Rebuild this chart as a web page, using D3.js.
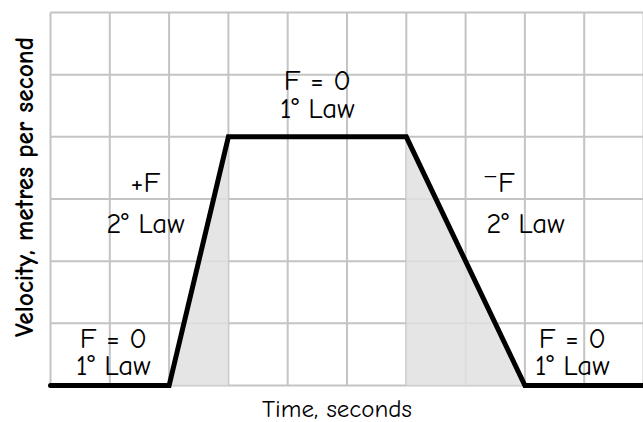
<!DOCTYPE html>
<html><head><meta charset="utf-8">
<script src="https://cdn.jsdelivr.net/npm/d3@7"></script>
<style>body{margin:0;background:#fff}svg{display:block}text{font-family:"Comic Sans MS","Comic Neue","DejaVu Sans",sans-serif;fill:#000}</style>
</head><body><svg id="c" width="643" height="422"></svg>
<script>
const times = [0, 2, 3, 6, 8, 10];
const velocities = [0, 0, 4, 4, 0, 0];
const shadeAccel = [[2, 0], [3, 4], [3, 0]];
const shadeDecel = [[6, 0], [6, 4], [8, 0]];
const xTicks = [0,1,2,3,4,5,6,7,8,9,10];
const yTicks = [0,1,2,3,4,5,6];
const labelTop = ["F = 0", "F = 0", "+F", "\u207BF", "F = 0"];
const labelBottom = ["1\u00B0 Law", "1\u00B0 Law", "2\u00B0 Law", "2\u00B0 Law", "1\u00B0 Law"];
const labelX = [1.06, 4.5, 1.6, 7.56, 8.8];
const labelY = [0.60, 4.75, 3.11, 3.11, 0.60];
const labelGap = [27, 28, 41, 41, 27];
const xTitle = "Time, seconds";
const yTitle = "Velocity, metres per second";

const svg = d3.select("#c");
const x = d3.scaleLinear().domain([0,10]).range([50.5, 643.5]);
const y = d3.scaleLinear().domain([0,6]).range([385.5, 12.5]);
const g = svg.append("g");
g.selectAll(".vx").data(xTicks).join("line")
  .attr("x1", d=>x(d)).attr("x2", d=>x(d)).attr("y1", y(0)).attr("y2", y(6))
  .attr("stroke", "#c4c4c4").attr("stroke-width", 2);
g.selectAll(".hy").data(yTicks).join("line")
  .attr("y1", d=>y(d)).attr("y2", d=>y(d)).attr("x1", x(0)).attr("x2", x(10))
  .attr("stroke", "#c4c4c4").attr("stroke-width", 2);
const area = d3.line().x(d=>x(d[0])).y(d=>y(d[1]));
[shadeAccel, shadeDecel].forEach(s => {
  g.append("path").attr("d", area(s) + "Z").attr("fill", "#e0e0e0").attr("fill-opacity", 0.85);
});
const pts = times.map((t,i)=>[t, velocities[i]]);
g.append("path").attr("d", area(pts)).attr("fill","none").attr("stroke","#000")
  .attr("stroke-width",5).attr("stroke-linejoin","miter").attr("stroke-linecap","round");

labelTop.forEach((t,i)=>{
  const tx = svg.append("text").attr("text-anchor","middle").attr("font-size",29)
    .attr("x", x(labelX[i])).attr("y", y(labelY[i]));
  tx.append("tspan").attr("x", x(labelX[i])).attr("dy", 0).text(t);
  tx.append("tspan").attr("x", x(labelX[i] + (i===3 ? 0.45 : 0))).attr("dy", labelGap[i]).text(labelBottom[i]);
});
svg.append("text").attr("text-anchor","middle").attr("font-size",25)
  .attr("x", 337).attr("y", 417).text(xTitle);
svg.append("text").attr("text-anchor","middle").attr("font-size",25.5).attr("font-weight","bold")
  .attr("transform","translate(33,187) rotate(-90)").text(yTitle);
</script></body></html>
